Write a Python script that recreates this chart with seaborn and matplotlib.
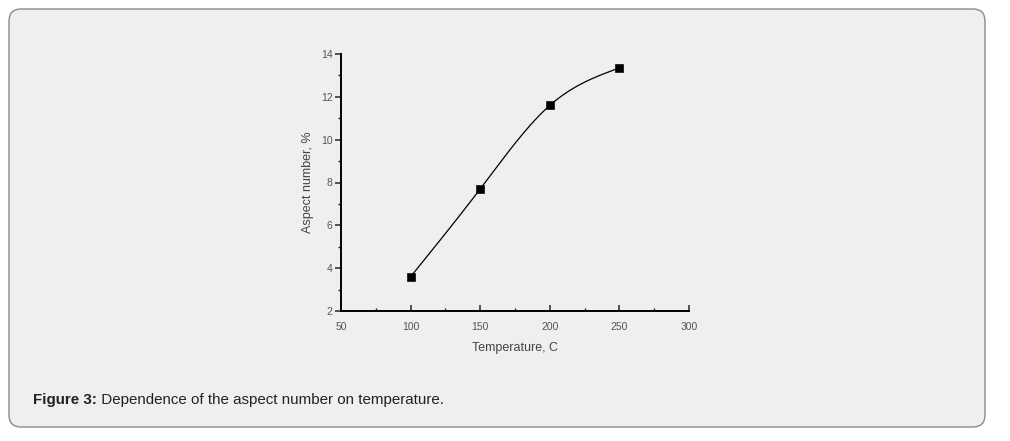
import numpy as np
import pandas as pd
import matplotlib
matplotlib.use("Agg")
import matplotlib.pyplot as plt
from matplotlib.patches import FancyBboxPatch
from matplotlib.ticker import MultipleLocator
import seaborn as sns

# Data
temperature = [100, 150, 200, 250]
aspect_number = [3.6, 7.7, 11.6, 13.35]
x_ticks = [50, 100, 150, 200, 250, 300]
y_ticks = [2, 4, 6, 8, 10, 12, 14]
caption_bold = "Figure 3:"
caption_rest = " Dependence of the aspect number on temperature."


def natural_spline(x, y, n=200):
    x = np.asarray(x, float)
    y = np.asarray(y, float)
    k = len(x)
    h = np.diff(x)
    A = np.zeros((k, k))
    b = np.zeros(k)
    A[0, 0] = A[-1, -1] = 1
    for i in range(1, k - 1):
        A[i, i - 1] = h[i - 1]
        A[i, i] = 2 * (h[i - 1] + h[i])
        A[i, i + 1] = h[i]
        b[i] = 6 * ((y[i + 1] - y[i]) / h[i] - (y[i] - y[i - 1]) / h[i - 1])
    M = np.linalg.solve(A, b)
    xs = np.linspace(x[0], x[-1], n)
    ys = np.empty_like(xs)
    for j, xv in enumerate(xs):
        i = min(np.searchsorted(x, xv, side="right") - 1, k - 2)
        t1 = x[i + 1] - xv
        t0 = xv - x[i]
        ys[j] = (M[i] * t1 ** 3 + M[i + 1] * t0 ** 3) / (6 * h[i]) \
            + (y[i] / h[i] - M[i] * h[i] / 6) * t1 \
            + (y[i + 1] / h[i] - M[i + 1] * h[i] / 6) * t0
    return xs, ys


sns.set_style("ticks")
plt.rcParams["font.family"] = ["Liberation Sans", "DejaVu Sans"]

W, H = 1010, 441
fig = plt.figure(figsize=(W / 100, H / 100), dpi=100)
fig.patch.set_facecolor("white")

panel = FancyBboxPatch((9 / W, 14 / H), 976 / W, 418 / H,
                       boxstyle="round,pad=0,rounding_size=0.012",
                       transform=fig.transFigure, facecolor="#efefef",
                       edgecolor="#8a8a8a", linewidth=1.0, zorder=-5,
                       mutation_aspect=W / H)
fig.patches.append(panel)

ax = fig.add_axes([341 / W, 1 - 311 / H, (689 - 341) / W, (311 - 54) / H])
ax.set_zorder(2)
ax.set_facecolor("none")
ax.patch.set_alpha(0)

xs, ys = natural_spline(temperature, aspect_number)
curve = pd.DataFrame({"T": xs, "A": ys})
pts = pd.DataFrame({"T": temperature, "A": aspect_number})
sns.lineplot(data=curve, x="T", y="A", ax=ax, color="black", linewidth=0.9,
             sort=False)
sns.scatterplot(data=pts, x="T", y="A", ax=ax, marker="s", color="black",
                s=32, edgecolor="black", zorder=3)

ax.set_xlim(50, 300)
ax.set_ylim(2, 14)
ax.set_xticks(x_ticks)
ax.set_yticks(y_ticks)
ax.xaxis.set_minor_locator(MultipleLocator(25))
ax.yaxis.set_minor_locator(MultipleLocator(1))
for s in ["top", "right"]:
    ax.spines[s].set_visible(False)
for s in ["left", "bottom"]:
    ax.spines[s].set_linewidth(1.4)
    ax.spines[s].set_color("black")
ax.tick_params(axis="both", which="major", labelsize=7.5, labelcolor="#555555",
               width=1.1, length=4, pad=2)
ax.tick_params(axis="both", which="minor", width=1.0, length=2.5)
ax.tick_params(axis="x", which="both", direction="in")
ax.tick_params(axis="x", which="major", pad=8)
ax.set_xlabel("Temperature, C", fontsize=9, color="#444444", labelpad=7)
ax.set_ylabel("Aspect number, %", fontsize=9, color="#444444", labelpad=5)

t1 = fig.text(33 / W, 1 - 400 / H, caption_bold, fontsize=10.9,
              fontweight="bold", color="#222222", va="center", ha="left")
fig.canvas.draw()
bb = t1.get_window_extent(renderer=fig.canvas.get_renderer())
fig.text(bb.x1 / W, 1 - 400 / H, caption_rest, fontsize=10.9,
         color="#222222", va="center", ha="left")

fig.savefig("out.png", dpi=100, facecolor=fig.get_facecolor())
